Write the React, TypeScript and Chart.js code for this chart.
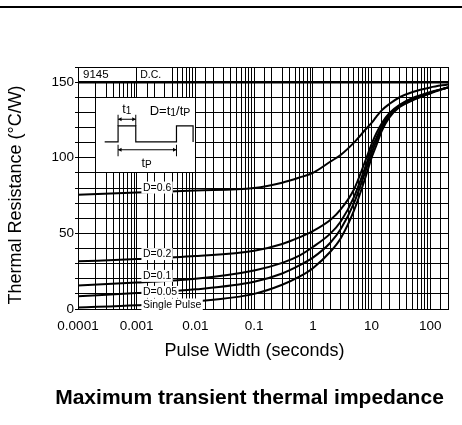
import React, { useEffect, useRef } from "react";
import { Chart, registerables } from "chart.js";

Chart.register(...registerables);

// ---------- data ----------
const pulseWidths = [0.0001, 0.001, 0.01, 0.1, 0.3, 0.6, 1, 2, 3, 5, 8, 10, 12, 15, 20, 30, 50, 100, 200];
const dcX = [0.0001, 200];
const dcValues = [150, 150];
const d06 = [75.5, 77, 78.3, 80, 83.5, 87, 90, 97.5, 102, 110, 119, 123, 127, 131.5, 135.5, 140, 143.5, 146.5, 148.5];
const d02 = [31.5, 33, 35, 38.5, 43, 47.5, 51.5, 59, 66, 79, 99, 109, 116, 123, 129.5, 135, 139.5, 143.5, 146.5];
const d01 = [15.5, 17.5, 20, 25.5, 30.5, 35.5, 41, 50, 58, 74, 95, 106, 113, 121, 128.5, 134.5, 139, 143, 146.5];
const d005 = [8.5, 10.5, 13, 18, 23.5, 29, 34, 44, 53, 70, 92, 103, 111, 119.5, 127.5, 134, 138.5, 143, 146.5];
const single = [1, 2.5, 5, 10, 16, 21.5, 27, 38, 47, 65, 88, 100, 108, 118, 126.5, 133.5, 138, 142.5, 146.5];

const seriesNames = ["D=0.6", "D=0.2", "D=0.1", "D=0.05", "Single Pulse"];
const seriesValues = [d06, d02, d01, d005, single];
const labelAnchorY = [80.3, 36.3, 21.9, 11.3, 3.0];
const labelAnchorX = 0.00125;

const xTickLabels = ["0.0001", "0.001", "0.01", "0.1", "1", "10", "100"];
const yTickLabels = ["0", "50", "100", "150"];

const xTitle = "Pulse Width (seconds)";
const yTitle = "Thermal Resistance (°C/W)";
const mainTitle = "Maximum transient thermal impedance";
const partNo = "9145";
const dcLabel = "D.C.";

const FONT = '"Liberation Sans", Arial, Helvetica, sans-serif';

const insetBox = { x0: 0.0002, x1: 0.01, y0: 90, y1: 140 };
const bandBox = { x0: 0.0001, x1: 0.0034, y0: 150, y1: 160 };

function drawArrow(ctx: CanvasRenderingContext2D, x1: number, x2: number, y: number) {
  ctx.beginPath();
  ctx.moveTo(x1, y);
  ctx.lineTo(x2, y);
  ctx.stroke();
  const h = 3.5, w = 2;
  ctx.beginPath();
  ctx.moveTo(x1, y);
  ctx.lineTo(x1 + h, y - w);
  ctx.lineTo(x1 + h, y + w);
  ctx.closePath();
  ctx.fill();
  ctx.beginPath();
  ctx.moveTo(x2, y);
  ctx.lineTo(x2 - h, y - w);
  ctx.lineTo(x2 - h, y + w);
  ctx.closePath();
  ctx.fill();
}

function subText(ctx: CanvasRenderingContext2D, parts: [string, boolean][], x: number, y: number, size: number, subSize: number) {
  let cx = x;
  for (const [t, sub] of parts) {
    ctx.font = `${sub ? subSize : size}px ${FONT}`;
    ctx.fillText(t, cx, sub ? y + 2 : y);
    cx += ctx.measureText(t).width;
  }
  return cx - x;
}

function measureSub(ctx: CanvasRenderingContext2D, parts: [string, boolean][], size: number, subSize: number) {
  let w = 0;
  for (const [t, sub] of parts) {
    ctx.font = `${sub ? subSize : size}px ${FONT}`;
    w += ctx.measureText(t).width;
  }
  return w;
}

const decor = {
  id: "decor",
  beforeDatasetsDraw(chart: any) {
    const { ctx, chartArea } = chart;
    const x = chart.scales.x, y = chart.scales.y;
    const col = (p: number) => Math.round(p - 0.5);
    ctx.save();
    ctx.fillStyle = "#fff";
    // inset area
    let L = col(x.getPixelForValue(insetBox.x0)) + 1;
    let R = col(x.getPixelForValue(insetBox.x1));
    let T = col(y.getPixelForValue(insetBox.y1)) + 1;
    let B = col(y.getPixelForValue(insetBox.y0));
    ctx.fillRect(L, T, R - L, B - T);
    // top band box
    L = col(chartArea.left) + 1;
    R = Math.round(x.getPixelForValue(bandBox.x1));
    T = col(y.getPixelForValue(bandBox.y1)) + 1;
    B = col(y.getPixelForValue(bandBox.y0));
    ctx.fillRect(L, T, R - L, B - T);
    ctx.fillStyle = "#000";
    ctx.fillRect(col(x.getPixelForValue(0.001)), T, 1, B - T);
    ctx.restore();
  },
  afterDatasetsDraw(chart: any) {
    const { ctx } = chart;
    const x = chart.scales.x, y = chart.scales.y;
    ctx.save();
    // curve labels
    ctx.font = `10.5px ${FONT}`;
    ctx.textBaseline = "middle";
    ctx.textAlign = "left";
    const lx = x.getPixelForValue(labelAnchorX);
    seriesNames.forEach((name, i) => {
      const cy = y.getPixelForValue(labelAnchorY[i]);
      const w = ctx.measureText(name).width;
      ctx.fillStyle = "#fff";
      ctx.fillRect(lx - 1, cy - 6, w + 3, 12);
      ctx.fillStyle = "#000";
      ctx.fillText(name, lx + 0.5, cy + 0.5);
    });
    // band texts
    const bandMid = y.getPixelForValue((bandBox.y0 + bandBox.y1) / 2) + 1;
    ctx.font = `11.5px ${FONT}`;
    ctx.fillText(partNo, x.getPixelForValue(0.0001) + 5, bandMid - 1);
    ctx.font = `10.5px ${FONT}`;
    ctx.fillText(dcLabel, x.getPixelForValue(0.00115), bandMid);

    // inset drawing
    const ox = x.getPixelForValue(insetBox.x0);
    const oy = y.getPixelForValue(insetBox.y1);
    ctx.strokeStyle = "#000";
    ctx.fillStyle = "#000";
    ctx.lineWidth = 1.2;
    const base = oy + 44.7, top = oy + 28.7;
    const xa = ox + 9, xr1 = ox + 22.4, xf1 = ox + 40.1, xr2 = ox + 80.8, xf2 = ox + 97.4;
    ctx.beginPath();
    ctx.moveTo(xa, base);
    ctx.lineTo(xr1, base);
    ctx.lineTo(xr1, top);
    ctx.lineTo(xf1, top);
    ctx.lineTo(xf1, base);
    ctx.lineTo(xr2, base);
    ctx.lineTo(xr2, top);
    ctx.lineTo(xf2, top);
    ctx.lineTo(xf2, base);
    ctx.stroke();
    ctx.lineWidth = 1;
    ctx.beginPath();
    ctx.moveTo(xr1, oy + 17.5); ctx.lineTo(xr1, top);
    ctx.moveTo(xf1, oy + 17.5); ctx.lineTo(xf1, top);
    ctx.moveTo(xr1, oy + 47.5); ctx.lineTo(xr1, oy + 59);
    ctx.moveTo(xr2, oy + 47.5); ctx.lineTo(xr2, oy + 59);
    ctx.stroke();
    drawArrow(ctx, xr1, xf1, oy + 22);
    drawArrow(ctx, xr1, xr2, oy + 52.5);
    ctx.textBaseline = "middle";
    const t1: [string, boolean][] = [["t", false], ["1", true]];
    const tp: [string, boolean][] = [["t", false], ["P", true]];
    let w = measureSub(ctx, t1, 12.5, 10);
    subText(ctx, t1, ox + 31 - w / 2, oy + 12, 12.5, 10);
    w = measureSub(ctx, tp, 12.5, 10);
    subText(ctx, tp, ox + 51 - w / 2, oy + 66, 12.5, 10);
    const formula: [string, boolean][] = [["D=t", false], ["1", true], ["/t", false], ["P", true]];
    subText(ctx, formula, ox + 54, oy + 14, 13, 10.5);
    ctx.restore();
  },
  afterDraw(chart: any) {
    const { ctx } = chart;
    ctx.save();
    ctx.fillStyle = "#000";
    ctx.fillRect(0, 6, 462, 2);
    ctx.textAlign = "center";
    ctx.textBaseline = "middle";
    ctx.font = `18px ${FONT}`;
    ctx.fillText(xTitle, 254.5, 351.5);
    ctx.save();
    ctx.translate(16, 195);
    ctx.rotate(-Math.PI / 2);
    ctx.fillText(yTitle, 0, 0);
    ctx.restore();
    ctx.font = `bold 21px ${FONT}`;
    ctx.fillText(mainTitle, 249.5, 398);
    ctx.restore();
  },
};

export default function App() {
  const ref = useRef<HTMLCanvasElement>(null);
  useEffect(() => {
    const lineStyle = {
      borderColor: "#000",
      backgroundColor: "#000",
      pointRadius: 0,
      fill: false,
      cubicInterpolationMode: "monotone" as const,
    };
    const datasets: any[] = [
      {
        label: "D.C.",
        data: dcX.map((v, i) => ({ x: v, y: dcValues[i] })),
        borderWidth: 2.5,
        ...lineStyle,
      },
      ...seriesNames.map((name, k) => ({
        label: name,
        data: pulseWidths.map((v, i) => ({ x: v, y: seriesValues[k][i] })),
        borderWidth: 2,
        ...lineStyle,
      })),
    ];
    const chart = new Chart(ref.current!, {
      type: "line",
      data: { datasets },
      options: {
        animation: false,
        responsive: false,
        devicePixelRatio: 1,
        layout: { padding: { left: 0, right: 14, top: 67, bottom: 39 } },
        plugins: { legend: { display: false }, tooltip: { enabled: false }, title: { display: false } },
        scales: {
          x: {
            type: "logarithmic",
            min: 0.0001,
            max: 200,
            afterFit: (s: any) => { s.height = 77; },
            grid: { color: "#000", lineWidth: 1, drawTicks: false },
            border: { color: "#000", width: 1 },
            ticks: {
              autoSkip: false,
              maxRotation: 0,
              minRotation: 0,
              padding: 9,
              color: "#000",
              font: { family: FONT, size: 13.5 },
              callback: (value: any) => {
                const v = Number(value);
                const hit = xTickLabels.find((t) => Math.abs(Number(t) - v) < v * 1e-6);
                return hit ?? "";
              },
            },
          },
          y: {
            type: "linear",
            min: 0,
            max: 160,
            afterFit: (s: any) => { s.width = 78; },
            grid: { color: "#000", lineWidth: 1, drawTicks: true, tickLength: 3 },
            border: { color: "#000", width: 1 },
            ticks: {
              autoSkip: false,
              stepSize: 10,
              padding: 1,
              color: "#000",
              font: { family: FONT, size: 13.5 },
              callback: (value: any) => {
                const s = String(value);
                return yTickLabels.includes(s) ? s : "";
              },
            },
          },
        },
      },
      plugins: [decor],
    });
    return () => chart.destroy();
  }, []);
  return (
    <div style={{ position: "absolute", left: 0, top: 0, width: 462, height: 425, background: "#fff" }}>
      <canvas ref={ref} width={462} height={425} style={{ display: "block", width: 462, height: 425 }} />
    </div>
  );
}
